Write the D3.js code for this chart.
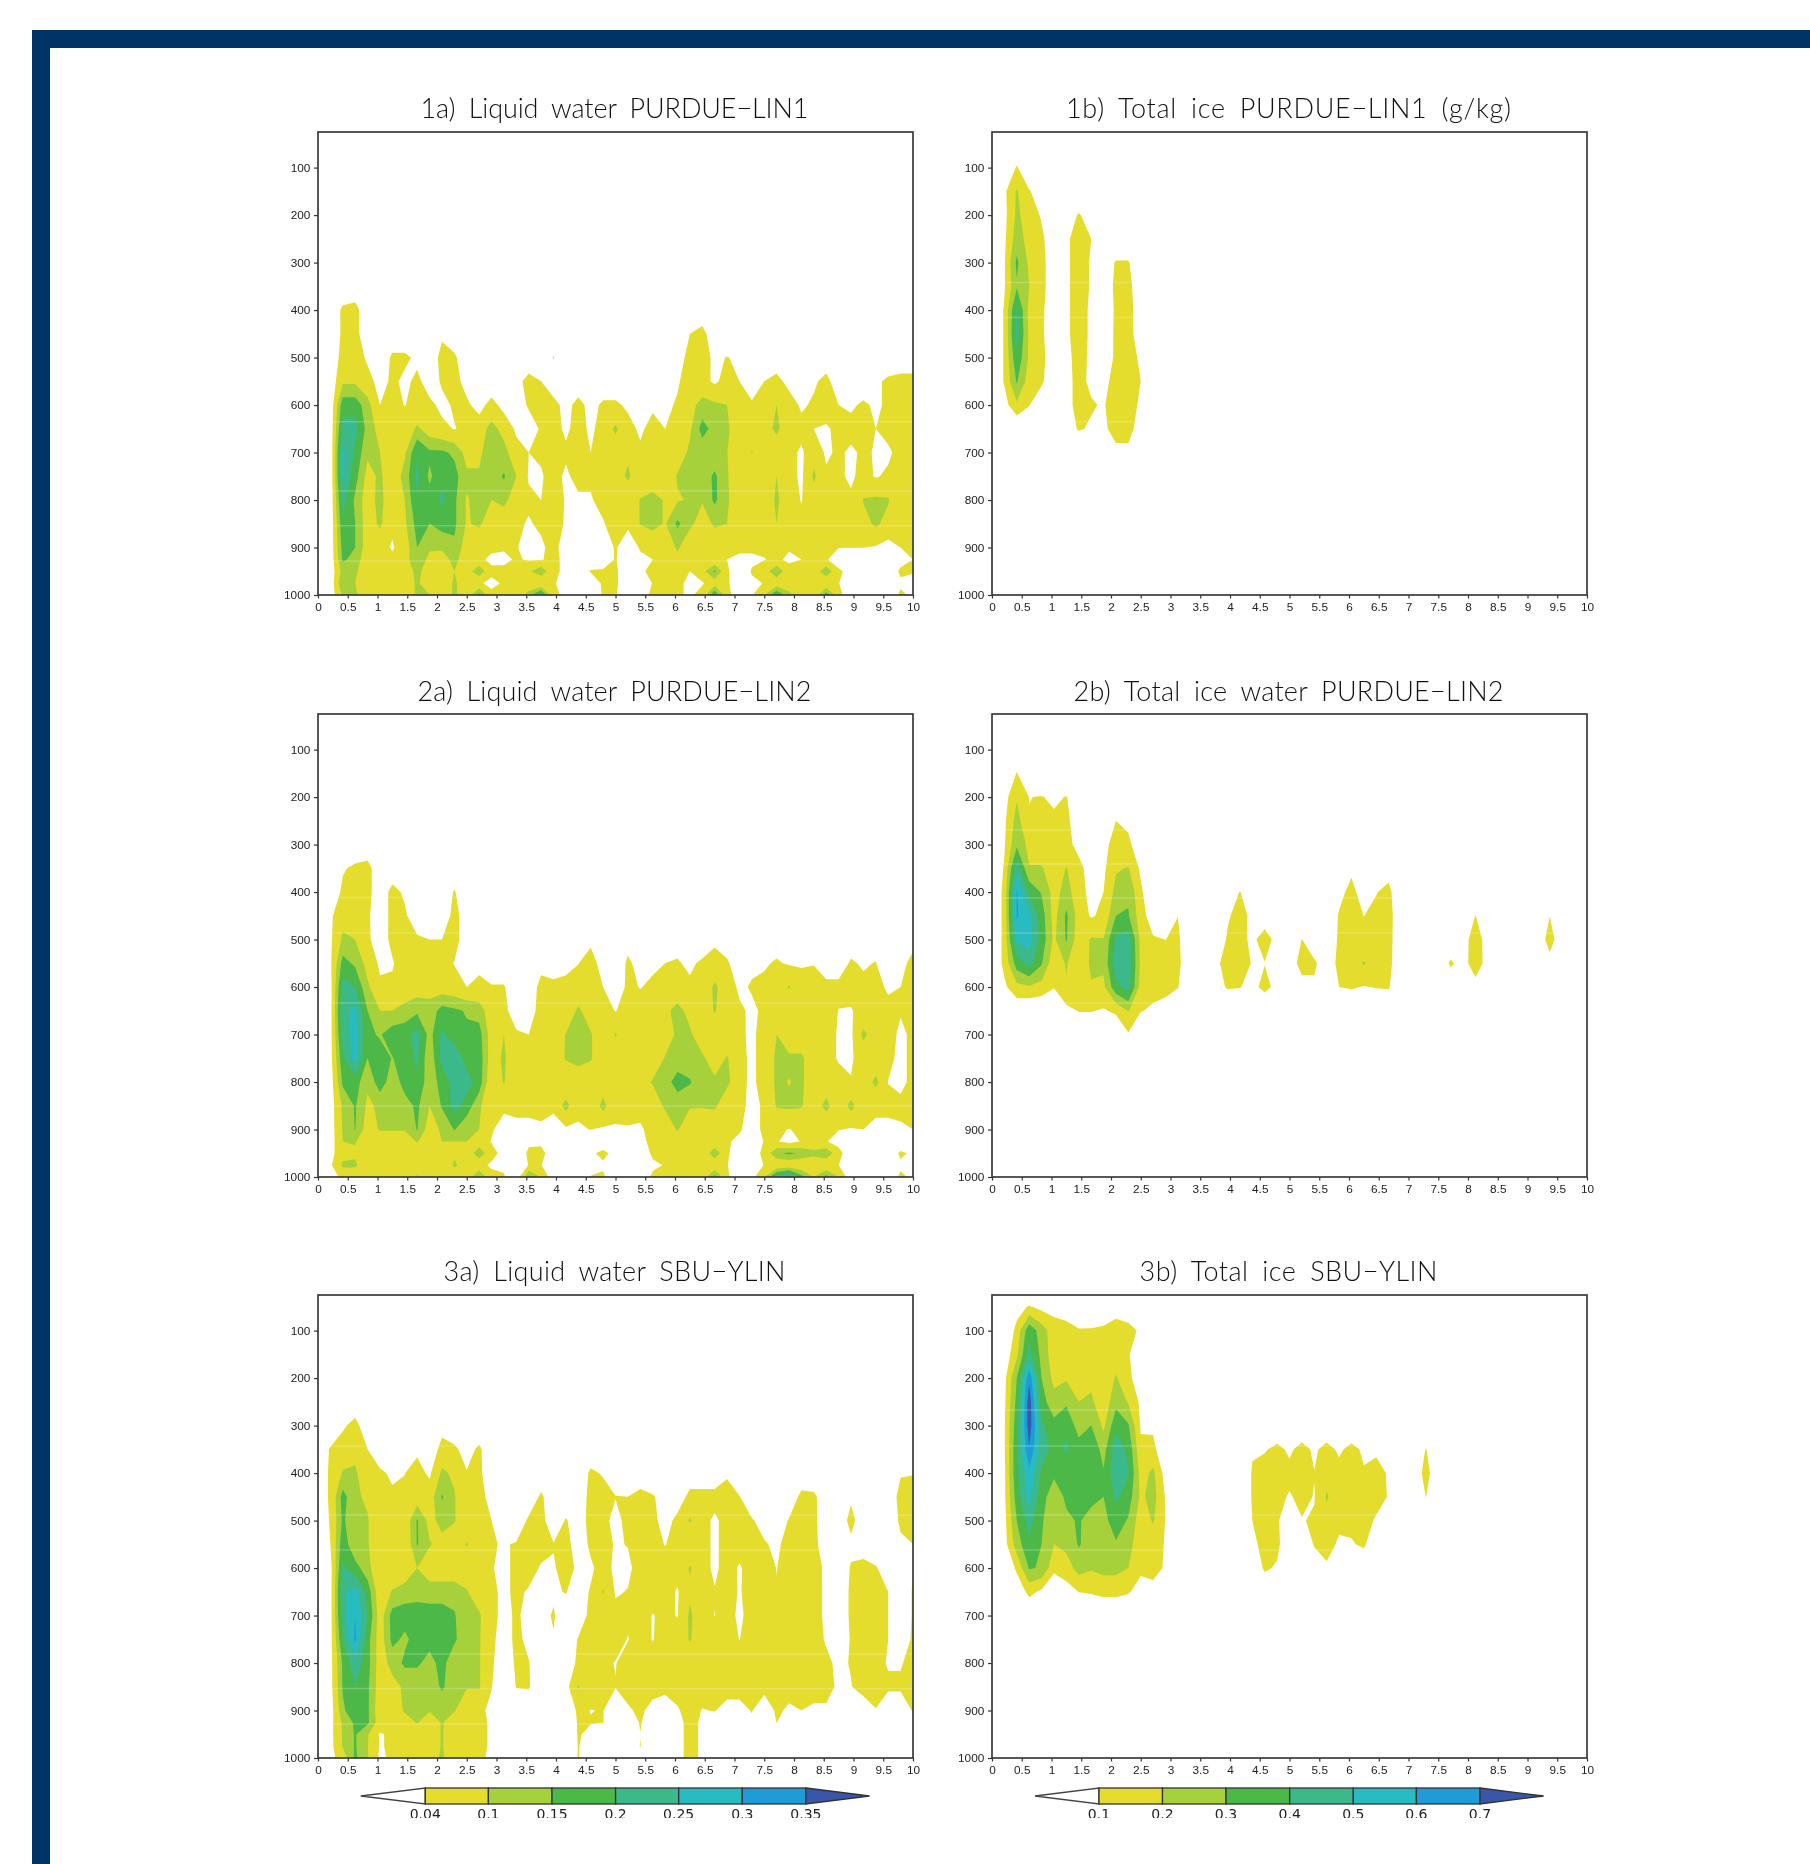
<!DOCTYPE html>
<html><head><meta charset="utf-8">
<script src="https://cdn.jsdelivr.net/npm/d3@7"></script>
<style>
html,body{margin:0;padding:0;background:#fff}
svg{display:block;filter:blur(0.4px)}
text{font-family:"Liberation Sans",Arial,sans-serif;fill:#222}
.title{font-family:"Lato","Open Sans",sans-serif;font-weight:300;fill:#111;word-spacing:6px}
</style></head><body>
<svg id="c" width="1810" height="1864"></svg>
<script>
// Grid of the model output: time in days (column k = k * 5/24) and pressure levels in hPa
const columnCount = 49;
const levels = [25,50,100,150,200,250,300,350,400,450,500,550,600,650,700,750,800,850,900,925,950,975,1000];
const xTicks = d3.range(0,21).map(d=>d/2);
const yTicks = [100,200,300,400,500,600,700,800,900,1000];
const bandColours = ["#e4dd2d","#a6d13a","#4cb848","#3cb98b","#28bcc2","#1f9cd8","#3a56a8"];
const liquidThresholds = [4,10,15,20,25,30,35];   // hundredths of g/kg
const iceThresholds = [10,20,30,40,50,60,70];
const liquidLabels = ["0.04","0.1","0.15","0.2","0.25","0.3","0.35"];
const iceLabels = ["0.1","0.2","0.3","0.4","0.5","0.6","0.7"];

// Values in hundredths of g/kg, one row per level beginning at the named level; short rows end in zeros
const liquidLin1Top = 350;
const liquidLin1 = [
[],
[0,0,5,6],
[0,0,5,6,0,0,0,0,0,0, 3,0,0,0,0,0,0,0,0,0, 0,0,0,0,0,0,0,0,0,0, 4,6],
[0,0,6,7,3,0,5,5,3,0, 6,5,0,0,0,0,0,0,0,4.3, 0,0,0,0,0,0,0,0,0,0, 7,6,3,4.2,3],
[0,0,9,9,6,2,5,3,5,2, 4.5,6,2,0,0,0,2,6,4,0, 0,0,0,0,0,0,0,0,0,3, 8,6,3,6,4,0,4,6,2,0, 3,6,0,0,0,3,5,6,6],
[0,0,18,18,12,4,5,3.9,5,5, 3,4.5,5,2,6,2,0,5,6,6, 2,6,2,5,5,3,3,3,2,5, 8,12,11,10,5,5,7,10,7,3, 5,6,4,3,5,3,5,6,6],
[0,0,22,22,13,8,6,6,11,7, 5,3.8,5,7,12,8,3,0,5,6, 3,6,3,6,11,6,3,6,4,6, 9,17,13,11,6,6,8,11,7,6, 4,3.5,5,6,5,4,6,7,7],
[0,0,26,19,11,10,5,9,20,16, 16,14,8,9,13,12,6,4,4.8,6, 5,6,4,6,7,9,5,5,5,7, 11,12,11.5,10.2,5,10.3,6,7,6,3, 8,3,5,3,5,3.5,3,6,6],
[0,0,26,17,8,11,6,12,21,14, 19,17,11,10.5,13,15.5,10,3.5,3.5,6, 3,6,5,6,7,11,6,6,6,10.5, 11,12,16,10.5,6,5,6,10,6,3, 11,5,5,3,6,3.5,5,6,6],
[0,0,22,14,7,12,5,10,20,17, 21,16,9.5,12,10,12,6,5,4,10, 3,3,3.5,6,8,6,10.3,12,9.5,9.5, 10.5,10.5,16,11,5,5,6,11,6,3.8, 7,5,5,5,10.3,11,10.5,5,5],
[0,0,19,15,7,11,5,9,17,15, 17,16,9.5,11,6,5,5,3.5,5,8, 3,1,2,3.5,7,5,10.3,12,9.5,16, 11.5,7,11,10,5,5,6,10,5,5, 6,5,5,5,8,11,8,5,5],
[0,0,17,15,7,6,3.5,7,15,11, 11,14,7,5,5,4.5,4.5,1,3,6, 1,0,0,1,4.5,1,4.5,5,5,11, 5,5,5,4.5,5,5,5,5,4.5,5, 5,4.1,4.1,4.1,4.1,3.5,2,4,5],
[0,0,16,13,6,5,5,7,15,8, 7,12,6,5,3,3,4.5,3.5,3.5,6, 2,0,0,0,4.5,0,3,4,5,8, 5,5,5,4,3,3,3.8,5,3,4, 5,4.5,1,0,0,0,1,2,4],
[0,0,12,11,6,5,5,6,12,6, 6,10,7,14,5,5,4.5,9,14,5, 3,0,4.5,5,5,0,3,5.5,5,5, 4,8,16,5,0,4.5,7,14.5,6,5, 6,14,5,2,0,0,0,5,4.5],
[0,0,15.2,10,6,5,5,6,11,6, 5,11,6,4.5,3,4.5,4.5,4.2,4.2,4.5, 2,0,0,5,5,0,0,4.2,4,5, 3,3.5,7,5,0,3,4.2,6,5,4.5, 4.5,5,4.2,0,0,0,0,3,2],
[0,0,11,11,6,5,5,6,11,10, 6,11,6,17,5,4.2,5,13,22,6, 2,0,0,4.5,4.5,0,0,6,5,5, 3,6,20,6,0,3.5,10,20,12,5, 6,18,6,0,0,0,0,5,3]
];

const iceLin1Top = 100;
const iceLin1 = [
[0,0,11],
[0,8,21,11,3],
[0,7,22,15,9,0,4,11,5],
[0,8,25,16,12,3,8,15,10,0],
[0,9,32,18,13,4,8,15,9,3,11,11,0],
[0,9,29,20,13,4,8,15,9,1,13,13,3],
[0,11,42,17,12,3,8,15,8,1,12,14,4],
[0,11,44,18,12,2,8,15,8,3,12,14,4],
[0,11,38,18,13,3,7,14,8,3,12,15,8],
[0,11,31,15,12,1,7,13,8,6,15,16,10],
[0,6,18,10.5,2,0,7,13,11,9,16,15,8],
[0,0,0,0,0,0,5,11,8.8,7,16,16,2],
[0,0,0,0,0,0,0,0,0,3,6,6,0]
];

const liquidLin2Top = 350;
const liquidLin2 = [
[0,0,3.5,5,6],
[0,0,5,6,6,0,6,3,0,0, 0,4.5],
[0,3,8,7,5,0,6,5,0,0, 0,6,1],
[0,3,11,10,5,1,5.5,6,5,4, 4,6,1,0,0,0,0,0,0,0, 0,0,3,0,0,2,0,0,0,2, 0,0,3,0,0,0,0,2,0,0, 0,0,0,2,0,2,0,0,3],
[0,3,17,14,8,3,3.5,7,8,7, 6,3.8,0,3,0,0,0,0,3,2, 3,3.9,6,2,0,5,2,3,4,4.5, 3,5,6,5,0,3,3.5,4.5,3.5,3.5, 3.8,2,2,4.5,3.5,4.2,0,3,5],
[0,2,22,20,11,5,5,6,7,8, 7,6,4,5,4.5,4.5,0,2,5,5, 5,6,6,4,1,5,3.8,5,5,6, 5,6,11,7,3,4.5,5,6,10.5,6, 6,5,5,5,5,5,3.5,4,6],
[0,2,24,26,15,10,10,12,14,12, 17,16,14.5,13,6,5,2,2.8,5,5, 6,11,7,6,3.8,6,6,6,8.5,12, 8,6,10.5,6,5,3,5,6,6,6, 6,6,3.9,3.8,5,6,5,4.2,6],
[0,2,22,27,16,14.5,18,18,22,13, 21,17,16,17,7,10,4.5,4,4.8,6, 10.3,13,10.5,6,10.5,6,6,6,7,11, 11,6,6,6,5,3,6,10,6,6, 6,6,3.5,3,11.5,6,5,3.5,4.5],
[0,2,19,27,15,17,14.8,17,21,11, 22,24,18,18,7,11,4.5,5,5,6, 10.5,12,10.5,6,6,6,6,6,10.4,11, 12,11,7,10.5,5.5,3,6,11,11,11, 6,6,3.5,3.5,6,6,5,3,5],
[0,1,16,17.5,11,18,12,17,19,12, 17,22,22,18,5,10.5,4,5,5,5, 5,6,6,6,6,6,8,10.5,12,18, 15.5,11,11,11.5,5.5,3,6,11,9.8,11, 6,6,6,4.2,6,11.5,3.9,3,5],
[0,1,11,15.5,9,11,11,13,16,10, 15.5,22,18,11,5,5,5,5,5,5, 12,5,5,12,5,5,5,6,11,11, 10.5,10.5,11,5.5,5,3,4.5,10.5,11,10.5, 6,12,5,12,5,5,5,5,10.5],
[0,1,10.5,15.2,7,10.5,10.5,10.5,15.3,7, 11,15.3,11,10,4.5,2,3,3,3.5,2, 3,3.5,4.1,3,3.7,3.8,3.6,5,6,10.5, 6,5,5,5,4.5,2,5,5,3.8,5, 4.5,4,4.2,3.5,4,3,3,3.5,4],
[0,1,10,10.5,6,5.5,5.5,6,10.5,5.5, 10,10,10,6,3.8,0,0,3,3,0, 0,0,0,0,0,0,3,5,6,6, 6,6,5,4.5,3,0,4.3,4.5,2,4.3, 4.5,4.3,2,0,1,0,0,0,2],
[0,2,8,9,6,5,5,5,6,5, 5,9,5,14,5,3,0,5,5.5,1, 0,0,3,5.5,2,0,0,5,5,5, 5,5,14,5,0,0,6,14,16,14, 12,14,6,0,0,0,0,5,3],
[0,3,11,11,5,5,5,5,5,5, 5,11,7,5,3.5,3,0,4.2,4.2,0, 0,0,0,3,0,0,0,3,4.3,5, 5,4.3,5,4.3,0,0,4.3,5,5.5,5, 4.5,5,4,0,0,0,0,3,2],
[0,0,6,6,5,5,5,6,11,5, 5,6,6,16,5,4.5,0,16,10,0, 0,0,4.5,5,0,0,0,5,10.5,5, 4.5,6,17,5,0,2,10,22,27,17, 10,17,10,0,0,0,0,5,3]
];

const iceLin2Top = 150;
const iceLin2 = [
[0,0,10.5],
[0,6,19,9.8,10.5,8,10.5,2],
[0,8,24,10.5,13,12,12,5,0,0, 10,8],
[0,9,28,17,13,12,12,8,3,7, 14,12,4],
[0,11,46,20.5,21,14,20.5,12,7,8, 19,20.5,8,2,0,0,0,0,0,0, 0,0,0,0,0,0,0,0,0,8, 0,0,5.5],
[0,13,61,38,29,16,24,14,7,10, 23,28,12,0,0,0,0,0,0,5, 10.3,5,0,0,0,0,0,0,7,13, 5,9.5,13,0],
[0,13,61,53,35,16,32,15,9,12, 30,31,14,5,0,9.9,0,0,0,9, 13,8,5,0,0,0,0,0,11,14, 9.9,13,14,2,0,0,0,0,0,10.3, 0,0,0,0,0,9.9],
[0,13,52,54,36,18,31,14,21,20.5, 42,45,17,11,9.9,12,0,0,3,11, 13,8,14,7,2,10.2,1,0,12,14, 12,13,14,1,0,0,0,0,5,16, 5,0,0,0,0,16],
[0,13,35,44,31,13,21,11,22,22, 47,46,18,12,13,13,0,0,8,13, 13.5,9.5,9.7,3,3,15,12,3,13,14, 21,13,13,2,0,0,0,12,5,17, 5,0,0,0,0,5],
[0,8,17,19,16,10.5,19,13,19,18, 37,44,16,13,13,10.5,0,0,6,11, 10.4,7,13,7,0,5,8,0,10,11, 9.5,10.5,11,0,0,0,0,0,0,5],
[0,0,2,0,0,0,7,10.5,10.5,9, 12,20.5,10.5,8.5,6,0],
[0,0,0,0,0,0,0,0,0,0, 0,9,0]
];

const liquidYlinTop = 250;
const liquidYlin = [
[],
[0,0,3,6,0,0,0,0,0,0, 2],
[0,4.5,7,8,4,0,0,0,3,0, 6,5,2,5,0],
[0,5,10.5,11,5,5,3,3.9,6,3, 11,9,4.3,5,1,0,0,0,0,0, 0,0,5,3.5,0,0,0,0,0,0, 0,0,0,3,0,0,0,0,0,0, 0,0,0,0,0,0,0,3.5,3.8],
[0,5,17,11,9,5,5,5,7,7, 15.5,10.5,4.3,6,2,0,0,0,5,0, 0,0,6,6,4.2,4,6,4.5,2,0, 6,6,6,7,4.2,0,0,0,0,5.5, 5,1,0,3,0,0,0,6,6],
[0,4.5,16,10.5,10.5,5,5,6,15.5,8, 12,10.5,5,6,4,0,0,5,6,0, 4.5,1,6,6,2,6,6,6,1,6, 10.5,6,3,6,6,4.5,2,0,4.5,6, 5.5,0,0,6,0,0,0,5,5],
[0,4,18,11,10.5,5,5,5,15.4,10.5, 8,6,10.5,6,4.5,3.5,4.5,4.8,6,4.3, 6,1,5,6,3.5,4.2,6,6,3.8,6, 6,6,3,6,6,5.5,4.5,3,6,6, 5.5,1,0,2.5,0,0,0,3,4],
[0,2,21,17,12,4.5,5,5,10,6, 6,6,6,5,4.5,2,6,6,3.5,3.5, 6,3,3.2,6,3,3,6,6,6,6, 10.5,6,3,6,3.5,6,6,3.9,6,6, 6,3,0,4.5,6.5,4.5,1,0,3.9],
[0,2,24,27,18,6,10.5,13,13.5,13, 13,13,10.5,6,5,3,5,3.5,3,3.5, 4.2,2,4.4,10.5,3.5,4.2,6,6,6,3.5, 9,6,4.3,6,3.6,6,6,4.2,6,6, 6,3,0,5,6,5,4,0,4.5],
[0,2,23,30,20,7,17,17,17,17, 17,15.5,11,10.8,5,3,4.5,3,3,4.3, 2,2,5,6,5.3,5,6,3.8,5,3.8, 11,6,3.9,6,3,6,6,6,6,6, 6,3,0,5,6,5,4,0,4.5],
[0,2,20,31,17,7,16.5,14,17,17, 17,16,11,10.5,5,2,5,3,2,3.8, 2,4.2,5,6,6,3.8,6,3.8,6,6, 10.5,6,6,6,3.9,6,6,6,6,6, 6,3.5,0,4.5,6,5,4,0,5],
[0,2,16,23,17,7,12,16,16,13, 17,11,11,10.5,4.5,2,4.5,4.2,1,0, 1,5,6,5,3.8,6,6,6,6,6, 6,6,6,6,6,6,6,6,6,6, 6,5,3,4.3,6,6,3.5,3.5,6],
[0,2,15.5,20,16,7,8,11,11,11, 16,11,10.5,10.5,4.2,0,4.2,4.5,0,0, 2,10.5,6,6,4.2,6,6,6,6,6, 6,6,6,6,6,6,6,6,6,6, 6,6,3,3.8,6,6,5,5,6],
[0,1,14,19,16,6,5,11,11,10.5, 11,10.5,5,5,3,0,0,0,0,0, 0,5,3.9,4.2,0,3.3,5,2.3,0,3.5, 6,3.8,4.2,2.3,2.3,4.3,0.1,5,3.1,4, 3.1,3.1,0,0,1,3.8,0,0,4.5],
[0,2,11,16,16,7,5,6,10.5,6, 10.5,6,5,6,3,0,0,0,0,0, 0,4.5,4.2,4.1,0,0,4.5,0,0,2, 6,3,2,0,0,3,0,4.1,0,0, 0,0,0,0,0,0,0,0,3.5],
[0,2,10.5,15.5,10.5,3.5,5,6,6,6, 10.5,6,5,6,3,0,0,0,0,0, 0,4.4,3,0,0,0,3.9,0,0,2, 6,3],
[0,2,10.5,15.5,10.2,3.5,5,6,6,6, 10.5,6,5,6,3,0,0,0,0,0, 0,4.2,2,0,0,0,4.2,0,0,2, 6,3],
[0,2,7,16,10.5,3,5,5,5,7, 11,5,5,5,3,0,0,0,0,0, 0,4.3,0,0,0,0,0,0,0,2, 6,3]
];

const iceYlinTop = 50;
const iceYlin = [
[0,0,6,11,7,7,7,5,5.5,6, 8,8,0],
[0,0,13,37,25,14,12,10.5,10.5,11, 12,11,9.5],
[0,3,18,43,27,14,13,12,13,12, 15,10.5,6],
[0,7,30,68,30,17,19,15,17,12, 21,12,5],
[0,8,33,76,34,24,28,20,22,13, 27,19,8],
[0,9,36,76,42,33,39,25,30,18, 37,31,9,8],
[0,9,38,69,45,37,41,35,38,26, 46,38,11.8,13,0,0,0,0,0,0, 0,9,9,13,8,14,8,14,8,13.5, 8,8.5,0,0,0,10.5],
[0,8,38,57,38,32,35,37,37,31, 47,41,16,22,6,0,0,0,0,0, 0,11,15,14,13,15,10.3,17,14,15, 11,13,9.1,0,0,15],
[0,8,35,54,34,24,32,34,33,30, 42,35,18,24,9.2,0,0,0,0,0, 0,11,14,13,9,13,9.5,21,14,14, 13,13,9.5,0,0,10.2],
[0,7,30,44,31,24,28,31,26,27, 35,29,14,21,9.5,0,0,0,0,0, 0,10,14,12,0,9.5,11,17,13,13, 13,9],
[0,6,25,38,30,20,23,31,25,24, 29,24,13,13,9.5,0,0,0,0,0, 0,7,14,13,0,0,11,15,8,9, 12,0],
[0,0,12,31,29,13,15,24,21,23, 23,20,12,13,9,0,0,0,0,0, 0,0,12,8.5,0,0,3,8],
[0,0,3,13,8,0,6,10.2,11,13, 13,11,6,7,0]
];

const panels = [
 {title:"1a) Liquid water PURDUE-LIN1", rows:liquidLin1, top:liquidLin1Top, th:liquidThresholds, x:318, y:132, tl:388, tb:118, seams:[421.8,491,525.7,561]},
 {title:"1b) Total ice PURDUE-LIN1 (g/kg)", rows:iceLin1, top:iceLin1Top, th:iceThresholds, x:992, y:132, tl:445, tb:118, seams:[282.5,317.5,421.8]},
 {title:"2a) Liquid water PURDUE-LIN2", rows:liquidLin2, top:liquidLin2Top, th:liquidThresholds, x:318, y:714, tl:394, tb:701, seams:[897.5,933,1003,1106]},
 {title:"2b) Total ice water PURDUE-LIN2", rows:iceLin2, top:iceLin2Top, th:iceThresholds, x:992, y:714, tl:430, tb:701, seams:[830,864,898,933,1003]},
 {title:"3a) Liquid water SBU-YLIN", rows:liquidYlin, top:liquidYlinTop, th:liquidThresholds, x:318, y:1295, tl:342, tb:1281, seams:[1446,1515,1550,1654,1688.5,1724]},
 {title:"3b) Total ice SBU-YLIN", rows:iceYlin, top:iceYlinTop, th:iceThresholds, x:992, y:1295, tl:298, tb:1281, seams:[1410,1446,1515,1550]}
];

const W = 595, H = 463;
const svg = d3.select("#c");
svg.append("rect").attr("x",32).attr("y",30).attr("width",1790).attr("height",18).attr("fill","#003366");
svg.append("rect").attr("x",32).attr("y",30).attr("width",18).attr("height",1850).attr("fill","#003366");

const timeOfColumn = d3.scaleLinear().domain([0,columnCount-1]).range([0,10]);
const levelOfRow = d3.scaleLinear().domain(d3.range(levels.length)).range(levels);
const x = d3.scaleLinear().domain([0,10]).range([0,W]);
const y = d3.scaleLinear().domain([25,1000]).range([0,H]);

const project = d3.geoTransform({point(px,py){
  const c = Math.max(0,Math.min(columnCount-1,px-0.5));
  const r = Math.max(0,Math.min(levels.length-1,py-0.5));
  this.stream.point(x(timeOfColumn(c)), y(levelOfRow(r)));
}});
const path = d3.geoPath(project);

panels.forEach((p,pi)=>{
  const start = levels.indexOf(p.top);
  const grid = new Array(columnCount*levels.length).fill(0);
  p.rows.forEach((row,i)=>row.forEach((v,k)=>{ if(k<columnCount) grid[(start+i)*columnCount+k]=v; }));
  const contours = d3.contours().size([columnCount,levels.length]).smooth(true).thresholds(p.th)(grid);
  const g = svg.append("g").attr("transform",`translate(${p.x},${p.y})`);
  const clipId = "clip"+pi;
  g.append("clipPath").attr("id",clipId).append("rect").attr("width",W).attr("height",H);
  const marks = g.append("g").attr("clip-path",`url(#${clipId})`);
  marks.selectAll("path").data(contours).join("path")
    .attr("d",path).attr("fill",(d,i)=>bandColours[i]).attr("fill-rule","evenodd");
  marks.selectAll("line").data(p.seams).join("line")
    .attr("x1",0).attr("x2",W).attr("y1",d=>d-p.y).attr("y2",d=>d-p.y)
    .attr("stroke","#fff").attr("stroke-opacity",0.22).attr("stroke-width",1.5);
  const ax = g.append("g").attr("transform",`translate(0,${H})`)
    .call(d3.axisBottom(x).tickValues(xTicks).tickSize(3.5).tickPadding(3.8).tickFormat(d=>d));
  const ay = g.append("g").call(d3.axisLeft(y).tickValues(yTicks).tickSize(4).tickPadding(3.7).tickFormat(d=>d));
  [ax,ay].forEach(a=>{a.select(".domain").remove();a.selectAll("line").attr("stroke","#333").attr("stroke-width",1.2);
    a.selectAll("text").attr("font-size",11.8).attr("font-family","Liberation Sans").attr("fill","#222");});
  g.append("rect").attr("width",W).attr("height",H).attr("fill","none").attr("stroke","#3a3a3a").attr("stroke-width",1.7);
  svg.append("text").attr("class","title").attr("x",p.x+W/2-1).attr("y",p.tb)
    .attr("text-anchor","middle").attr("font-size",27).attr("textLength",p.tl).attr("lengthAdjust","spacing")
    .text(p.title.replace("-","\u2212"));
});

// Colour bars
const bars = [
 {labels:liquidLabels, left:360.8, right:869.5, ticks:[425.3,488.4,552,615.6,678.7,742.3,805.9]},
 {labels:iceLabels, left:1035, right:1543.6, ticks:[1099,1162.5,1226,1289.7,1353.3,1416.4,1480]}
];
const barTop = 1788, barBottom = 1804, barMid = 1796;
svg.append("clipPath").attr("id","legendClip").append("rect").attr("x",0).attr("y",1805).attr("width",1810).attr("height",13);
bars.forEach(b=>{
  const g = svg.append("g");
  g.append("path").attr("d",`M${b.left},${barMid}L${b.ticks[0]},${barTop}V${barBottom}Z`)
    .attr("fill","#fff").attr("stroke","#444").attr("stroke-width",1.5);
  b.ticks.forEach((t,i)=>{
    const next = b.ticks[i+1];
    if(next!==undefined){
      g.append("rect").attr("x",t).attr("y",barTop).attr("width",next-t).attr("height",barBottom-barTop)
       .attr("fill",bandColours[i]).attr("stroke","#333").attr("stroke-width",1.3);
    } else {
      g.append("path").attr("d",`M${t},${barTop}L${b.right},${barMid}L${t},${barBottom}Z`)
       .attr("fill",bandColours[i]).attr("stroke","#333").attr("stroke-width",1.3);
    }
  });
  g.append("g").attr("clip-path","url(#legendClip)").selectAll("text").data(b.labels).join("text")
   .attr("x",(d,i)=>b.ticks[i]).attr("y",1819).attr("text-anchor","middle").attr("font-size",14)
   .attr("font-family","DejaVu Sans").style("font-family","DejaVu Sans").attr("fill","#222").text(d=>d);
});
</script></body></html>
